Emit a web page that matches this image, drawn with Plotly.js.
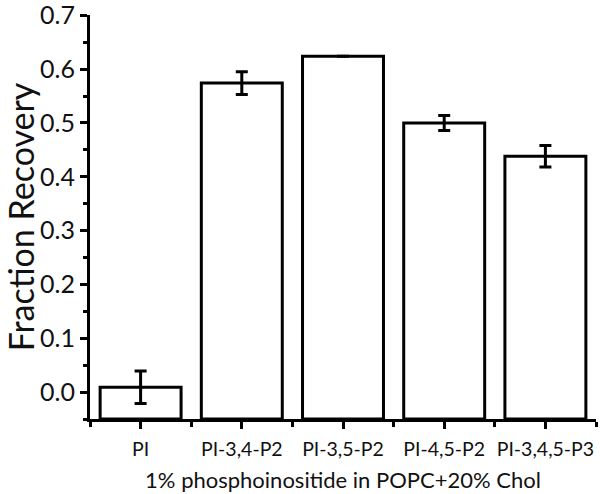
<!DOCTYPE html>
<html>
<head>
<meta charset="utf-8">
<script src="https://cdn.plot.ly/plotly-3.0.1.min.js"></script>
<style>
  html, body { margin: 0; padding: 0; background: #fff; }
  #chart { width: 600px; height: 494px; }
</style>
</head>
<body>
<div id="chart"></div>
<script>
const categories = ["PI", "PI-3,4-P2", "PI-3,5-P2", "PI-4,5-P2", "PI-3,4,5-P3"];
const recovery = [0.009, 0.574, 0.624, 0.500, 0.438];
const recovery_err = [0.030, 0.021, 0.0, 0.014, 0.020];
const positions = [0, 1, 2, 3, 4];

// bars are drawn up from the bottom of the axis (-0.05), as in the original figure
const y_min = -0.05;
const y_max = 0.7;

const bars = {
    x: positions,
    y: recovery.map(v => v - y_min),
    base: y_min,
    type: "bar",
    width: 0.8,
    marker: {
        color: "white",
        line: { color: "black", width: 3 },
    },
    hoverinfo: "none",
};

const errors = {
    x: positions,
    y: recovery,
    type: "scatter",
    mode: "markers",
    marker: { size: 1, opacity: 0 },
    error_y: {
        type: "data",
        array: recovery_err,
        visible: true,
        color: "black",
        thickness: 3,
        width: 6,
    },
    hoverinfo: "none",
};

const font_family = "Lato, 'Open Sans', sans-serif";

const layout = {
    width: 600,
    height: 494,
    margin: { l: 90, r: 4, t: 15, b: 75 },
    paper_bgcolor: "white",
    plot_bgcolor: "white",
    showlegend: false,
    font: { family: font_family, color: "#111" },
    xaxis: {
        range: [-0.5, 4.5],
        tickmode: "array",
        tickvals: positions,
        ticktext: categories,
        ticks: "outside",
        ticklen: 7,
        tickwidth: 3,
        tickcolor: "black",
        tickfont: { size: 19.5 },
        ticklabelstandoff: 4,
        ticklabeloverflow: "allow",
        showline: true,
        linewidth: 3,
        linecolor: "black",
        showgrid: false,
        zeroline: false,
        minor: {
            tickmode: "array",
            tickvals: [-0.5, 0.5, 1.5, 2.5, 3.5, 4.5],
            ticks: "outside",
            ticklen: 5,
            tickwidth: 3,
            tickcolor: "black",
            showgrid: false,
        },
        title: { text: "1% phosphoinositide in POPC+20% Chol", font: { size: 22 }, standoff: 14 },
    },
    yaxis: {
        range: [y_min, y_max + 0.0005],
        tickmode: "linear",
        tick0: 0,
        dtick: 0.1,
        tickformat: ".1f",
        ticks: "outside",
        ticklen: 7,
        tickwidth: 3,
        tickcolor: "black",
        tickfont: { size: 25 },
        ticklabeloverflow: "allow",
        showline: true,
        linewidth: 3,
        linecolor: "black",
        showgrid: false,
        zeroline: false,
        minor: {
            dtick: 0.05,
            tick0: 0,
            ticks: "outside",
            ticklen: 4,
            tickwidth: 3,
            tickcolor: "black",
            showgrid: false,
        },
        title: { text: "Fraction Recovery", font: { size: 34 }, standoff: 9 },
    },
};

Plotly.newPlot("chart", [bars, errors], layout, { displayModeBar: false, staticPlot: true });
</script>
</body>
</html>
